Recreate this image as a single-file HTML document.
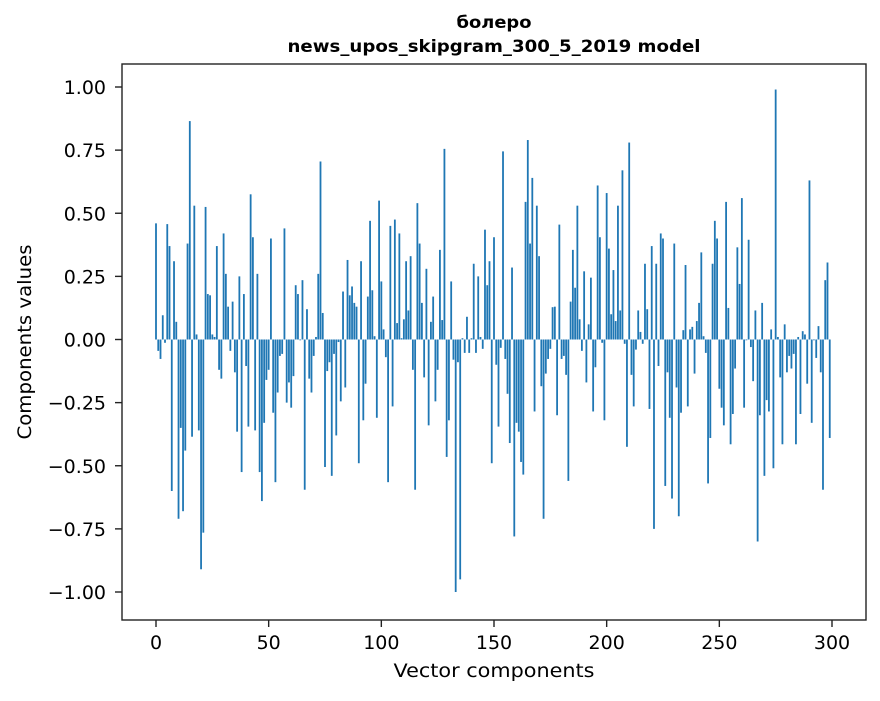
<!DOCTYPE html>
<html><head><meta charset="utf-8"><style>
body{margin:0;background:#fff;}
svg text{font-family:"DejaVu Sans","Liberation Sans",sans-serif;fill:#000;}
</style></head><body>
<svg id="chart" width="880" height="696" xmlns="http://www.w3.org/2000/svg">
<rect width="880" height="696" fill="#fff"/>
<text x="494" y="28" text-anchor="middle" font-size="17" font-weight="bold" textLength="75" lengthAdjust="spacingAndGlyphs">болеро</text>
<text x="494" y="52" text-anchor="middle" font-size="17" font-weight="bold" textLength="413" lengthAdjust="spacingAndGlyphs">news_upos_skipgram_300_5_2019 model</text>
<g id="bars"></g>
<g id="axes"></g>
<rect x="122" y="64" width="744" height="556" fill="none" stroke="#222" stroke-width="1.4"/>
<text x="494" y="677" text-anchor="middle" font-size="19" textLength="201" lengthAdjust="spacingAndGlyphs">Vector components</text>
<text transform="translate(31,342) rotate(-90)" text-anchor="middle" font-size="19" textLength="195" lengthAdjust="spacingAndGlyphs">Components values</text>
</svg>
<script>
const values = [.46,-.045,-.077,.096,-.013,.457,.37,-.60,.31,.07,
-.71,-.35,-.68,-.44,.38,.865,-.385,.53,.02,-.36,
-.91,-.765,.525,.18,.175,.02,.01,.37,-.12,-.155,
.42,.26,.13,-.045,.15,-.13,-.365,.25,-.525,.18,
-.105,-.345,.575,.405,-.36,.26,-.525,-.64,-.33,-.16,
-.12,.40,-.29,-.565,-.21,-.065,-.057,.44,-.25,-.17,
-.27,-.145,.215,.18,-.003,.235,-.595,.12,-.155,-.21,
-.065,.01,.26,.705,.105,-.505,-.125,-.09,-.54,-.057,
-.38,-.01,-.245,.19,-.19,.315,.175,.21,.145,.13,
-.49,.31,-.32,-.175,.17,.47,.195,.013,-.31,.55,
.23,.04,-.07,-.565,.45,-.265,.475,.065,.42,.005,
.08,.31,.115,.33,-.12,-.595,.54,.38,.145,-.15,
.28,-.34,.07,.17,-.245,-.12,.355,.077,.755,-.465,
-.32,.23,-.08,-1.0,-.09,-.95,.005,-.053,.09,-.053,
.005,.30,-.053,.25,.01,-.037,.435,.215,.31,-.49,
.405,-.1,-.345,-.033,.745,-.077,-.215,-.41,.285,-.78,
-.33,-.365,-.485,-.535,.545,.79,.38,.64,-.285,.53,
.33,-.185,-.71,-.135,-.077,-.037,.128,.13,-.3,.455,
-.077,-.065,-.14,-.56,.15,.355,.205,.53,.08,-.045,
.27,-.17,.06,.245,-.285,-.11,.61,.405,-.013,-.32,
.58,.36,.1,.275,.073,.53,.115,.67,-.017,-.425,
.78,-.14,-.265,-.04,.115,.03,-.017,.30,.12,-.275,
.37,-.75,.30,-.105,.42,.40,-.58,-.13,-.31,-.63,
.38,-.19,-.70,-.29,.037,.295,-.265,.04,.05,-.135,
.073,.145,.345,.013,-.053,-.57,-.39,.30,.47,.40,
-.195,-.27,-.34,.545,.125,-.415,-.295,-.115,.365,.22,
.56,-.27,-.003,.395,-.03,-.165,.115,-.80,-.30,.145,
-.54,-.24,-.285,.04,-.51,.99,.01,-.15,-.415,.06,
-.13,-.065,-.115,-.057,-.415,.01,-.295,.033,.02,-.175,
.63,-.33,-.003,-.073,.053,-.13,-.595,.235,.305,-.39];
const xTicks = [0,50,100,150,200,250,300];
const yTicks = [-1.00,-0.75,-0.50,-0.25,0.00,0.25,0.50,0.75,1.00];

const NS = "http://www.w3.org/2000/svg";
function xs(v){ return 156 + v * (676/300); }
function ys(v){ return 339.5 - v * 252.5; }
const barW = 0.8 * (676/300);
const gb = document.getElementById('bars');
values.forEach((v,i)=>{
  const r = document.createElementNS(NS,'rect');
  
  
  const y0 = ys(0), y1 = ys(v);
  r.setAttribute('x', xs(i) - barW/2);
  r.setAttribute('y', Math.min(y0,y1));
  r.setAttribute('width', barW);
  r.setAttribute('height', Math.abs(y1-y0));
  r.setAttribute('fill', '#1f77b4');
  gb.appendChild(r);
});
const ga = document.getElementById('axes');
xTicks.forEach(t=>{
  const l = document.createElementNS(NS,'line');
  
  
  l.setAttribute('x1', xs(t)); l.setAttribute('x2', xs(t));
  l.setAttribute('y1', 620); l.setAttribute('y2', 627);
  l.setAttribute('stroke', '#222');
  l.setAttribute('stroke-width', '1.4');
  ga.appendChild(l);
  const tx = document.createElementNS(NS,'text');
  
  
  tx.setAttribute('x', xs(t)); tx.setAttribute('y', 649);
  tx.setAttribute('text-anchor', 'middle');
  tx.setAttribute('font-size', '19');
  tx.textContent = String(t);
  ga.appendChild(tx);
});
yTicks.forEach(t=>{
  const l = document.createElementNS(NS,'line');
  
  
  l.setAttribute('x1', 115); l.setAttribute('x2', 122);
  l.setAttribute('y1', ys(t)); l.setAttribute('y2', ys(t));
  l.setAttribute('stroke', '#222');
  l.setAttribute('stroke-width', '1.4');
  ga.appendChild(l);
  const tx = document.createElementNS(NS,'text');
  
  
  tx.setAttribute('x', 106); tx.setAttribute('y', ys(t) + 7);
  tx.setAttribute('text-anchor', 'end');
  tx.setAttribute('font-size', '19');
  tx.textContent = (t < 0 ? '\u2212' : '') + Math.abs(t).toFixed(2);
  ga.appendChild(tx);
});
</script>
</body></html>
